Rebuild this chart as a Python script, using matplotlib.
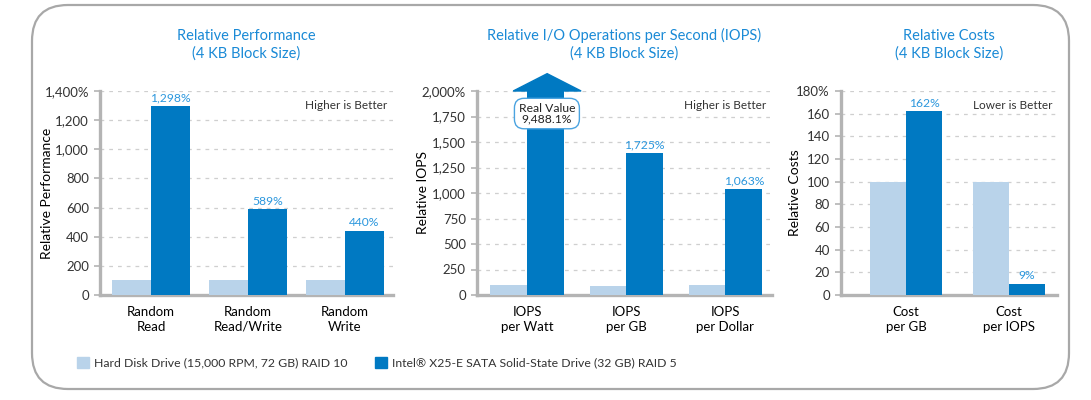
import matplotlib
matplotlib.use("Agg")
import matplotlib.pyplot as plt
from matplotlib.patches import FancyBboxPatch, Polygon, Rectangle
from matplotlib.ticker import FuncFormatter

plt.rcParams['font.family'] = ['Lato', 'DejaVu Sans']

# cores
HDD_COR = '#b9d3ea'
SSD_COR = '#0079c2'
TITULO_COR = '#1a8ad6'
ROTULO_COR = '#2b97dd'
EIXO_COR = '#b4b4b4'

# dados - desempenho relativo
perf_cat = ['Random\nRead', 'Random\nRead/Write', 'Random\nWrite']
perf_hdd = [100, 100, 100]
perf_ssd = [1298, 589, 440]
perf_rot = ['1,298%', '589%', '440%']

# dados - IOPS relativo
iops_cat = ['IOPS\nper Watt', 'IOPS\nper GB', 'IOPS\nper Dollar']
iops_hdd = [100, 85, 100]
iops_ssd = [9488.1, 1392, 1040]
iops_rot = [None, '1,725%', '1,063%']
iops_real = 'Real Value\n9,488.1%'

# dados - custos relativos
custo_cat = ['Cost\nper GB', 'Cost\nper IOPS']
custo_hdd = [100, 100]
custo_ssd = [162, 10]
custo_rot = ['162%', '9%']

legenda = ['Hard Disk Drive (15,000 RPM, 72 GB) RAID 10',
           'Intel\u00ae X25-E SATA Solid-State Drive (32 GB) RAID 5']

W, H = 1091, 400
fig = plt.figure(figsize=(W / 100, H / 100), dpi=100)

# moldura arredondada (coordenadas em pixels)
fundo = fig.add_axes([0, 0, 1, 1], zorder=-1)
fundo.set_xlim(0, W)
fundo.set_ylim(H, 0)
fundo.axis('off')
fundo.add_patch(FancyBboxPatch((32, 5), 1037, 384,
                               boxstyle='round,pad=0,rounding_size=36',
                               fc='white', ec='#a8a8a8', lw=1.6))


def painel(x0, x1, cats, hdd, ssd, rotulos, ymax, passo, largura, xlim,
           titulo, ylabel, ylabel_x, nota):
    ax = fig.add_axes([x0 / W, 1 - 295 / H, (x1 - x0) / W, 204 / H])
    xs = list(range(len(cats)))
    ax.bar([x - largura for x in xs], hdd, width=largura, align='edge',
           color=HDD_COR, zorder=3)
    barras = ax.bar(xs, ssd, width=largura, align='edge', color=SSD_COR, zorder=3)
    for b, r in zip(barras, rotulos):
        if r:
            ax.text(b.get_x() + b.get_width() / 2, b.get_height() + ymax * 0.012, r,
                    ha='center', va='bottom', color=ROTULO_COR, fontsize=8.7)
    ax.set_ylim(0, ymax)
    ax.set_xlim(*xlim)
    ax.set_yticks(range(0, ymax + 1, passo))
    ax.yaxis.set_major_formatter(FuncFormatter(
        lambda v, p: f'{int(v):,}%' if v == ymax else f'{int(v):,}'))
    ax.set_xticks(xs)
    ax.set_xticklabels(cats, fontsize=9.5, linespacing=1.25)
    ax.tick_params(axis='x', length=0, pad=8)
    ax.tick_params(axis='y', length=4, width=1.2, color=EIXO_COR, pad=4,
                   labelsize=9.5, labelcolor='#333333')
    for lado in ['top', 'right']:
        ax.spines[lado].set_visible(False)
    for lado in ['left', 'bottom']:
        ax.spines[lado].set_color(EIXO_COR)
        ax.spines[lado].set_linewidth(2.4)
    ax.grid(axis='y', color='#cfcfcf', linestyle=(0, (3, 4)), linewidth=0.9, zorder=0)
    ax.set_ylabel(ylabel, fontsize=10, va='center')
    ax.yaxis.set_label_coords((ylabel_x - x0) / (x1 - x0), 0.5)
    ax.text(0.98, 0.93, nota, transform=ax.transAxes, ha='right', va='center',
            fontsize=8.5, color='#333333')
    ax.set_title(titulo, color=TITULO_COR, fontsize=10.5, pad=24, linespacing=1.3)
    return ax


painel(100, 393, perf_cat, perf_hdd, perf_ssd, perf_rot, 1400, 200, 0.40,
       (-0.526, 2.495), 'Relative Performance\n(4 KB Block Size)',
       'Relative Performance', 47, 'Higher is Better')

ax2 = painel(477, 772, iops_cat, iops_hdd, iops_ssd, iops_rot, 2000, 250, 0.37,
             (-0.505, 2.47), 'Relative I/O Operations per Second (IOPS)\n(4 KB Block Size)',
             'Relative IOPS', 423, 'Higher is Better')
# seta indicando valor fora da escala
ax2.add_patch(Polygon([(-0.14, 2000), (0.545, 2000), (0.2025, 2170)], closed=True,
                      color=SSD_COR, clip_on=False, zorder=4))
ax2.text(0.2, 1779, iops_real, ha='center', va='center', fontsize=8.7,
         color='#222222', linespacing=1.0, zorder=5,
         bbox=dict(boxstyle='round,pad=0.35,rounding_size=0.8', fc='white',
                   ec='#4aa3e0', lw=1.0))

painel(841, 1057, custo_cat, custo_hdd, custo_ssd, custo_rot, 180, 20, 0.35,
       (-0.63, 1.466), 'Relative Costs\n(4 KB Block Size)',
       'Relative Costs', 795, 'Lower is Better')

# legenda
for x, cor, txt in [(77, HDD_COR, legenda[0]), (375, SSD_COR, legenda[1])]:
    fundo.add_patch(Rectangle((x, 357), 12, 11, color=cor))
    fundo.text(x + 17, 362.5, txt, ha='left', va='center', fontsize=8.8,
               color='#333333')

fig.savefig('out.png', dpi=100)
